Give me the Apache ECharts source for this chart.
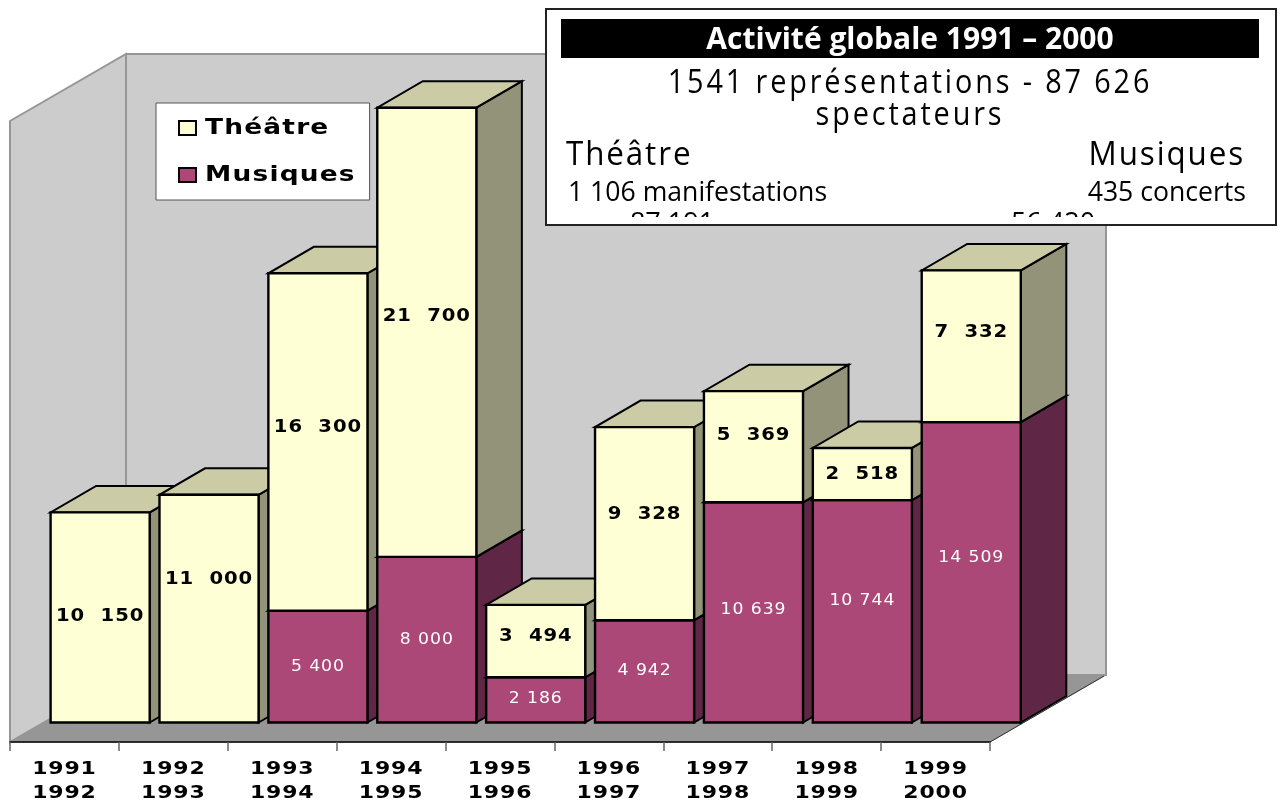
<!DOCTYPE html>
<html><head><meta charset="utf-8">
<style>html,body{margin:0;padding:0;background:#fff}#c{width:1284px;height:800px}</style>
<script src="https://cdn.jsdelivr.net/npm/echarts@6/dist/echarts.min.js"></script>
</head><body><div id="c"></div>
<script>
const categories = ['1991\n1992','1992\n1993','1993\n1994','1994\n1995','1995\n1996','1996\n1997','1997\n1998','1998\n1999','1999\n2000'];
const theatre  = [10150,11000,16300,21700,3494,9328,5369,2518,7332];
const musiques = [null,null,5400,8000,2186,4942,10639,10744,14509];
const seriesNames = ['Théâtre','Musiques'];
const infoTitle = 'Activité globale 1991 – 2000';
const infoLine1 = '1541 représentations - 87 626';
const infoLine2 = 'spectateurs';
const infoLeft = ['Théâtre','1 106 manifestations','87 191'];
const infoRight = ['Musiques','435 concerts','56 420'];

// vertical nudges (px) of the value labels, as placed in the reference
const nudgeTheatre = [-1,-29,-15,-16,-5,-9,-11,0,-14];
const nudgeMusiques = [0,0,0,0,-1,0,-2,-10,-14];

// Text widening: horizontal stretch and tracking per font size
const textLook = {18:[1.22,0.7],17.5:[1.12,0.8],15:[1.15,0.8],22:[1.2,1],30:[1.0,0],32:[0.9,3.2],33:[0.95,2],28:[0.95,0],27:[1.0,0,217]};
const rawFill = CanvasRenderingContext2D.prototype.fillText;
CanvasRenderingContext2D.prototype.fillText = function(t,x,y,m){
  const k = /([\d.]+)px/.exec(this.font);
  const look = k && textLook[k[1]];
  if(!look) return rawFill.call(this,t,x,y,m);
  this.save();
  if(look[2]){ this.beginPath(); this.rect(0,0,this.canvas.width,look[2]); this.clip(); }
  this.letterSpacing = look[1]+'px';
  this.translate(x,y); this.scale(look[0],1);
  rawFill.call(this,t,0,0);
  this.restore();
};

const C = {front:'#FFFFD5',top:'#CBCBA6',side:'#93937A',mfront:'#AB4877',mtop:'#CBCBA6',mside:'#5F2745',wall:'#CCCCCC',floor:'#969696',edge:'#969696'};
const DX=45.5, DY=-26.5;
const spaced = v => String(v).replace(/\B(?=(\d{3})+$)/g,' ');
const poly = (pts,fill,z2,stroke,lw)=>({type:'polygon',shape:{points:pts},z2,style:{fill,stroke:stroke||'#000',lineWidth:lw==null?2:lw,lineJoin:'miter'}});

function bar(values,bases,colors,order,nudge,labelFont,labelColor,gap){
  return function(params,api){
    const i=api.value(0), v=values[i];
    if(v==null) return null;
    const b=bases?(bases[i]||0):0;
    const p0=api.coord([i,b]), p1=api.coord([i,b+v]);
    const w=api.size([1,0])[0]*0.91;
    const l=p0[0]-w/2,r=p0[0]+w/2,yb=p0[1],yt=p1[1];
    const z=i*10+order;
    const kids=[
      poly([[r,yb],[r+DX,yb+DY],[r+DX,yt+DY],[r,yt]],colors[2],z),
      poly([[l,yt],[r,yt],[r+DX,yt+DY],[l+DX,yt+DY]],colors[1],z),
      {type:'rect',shape:{x:l,y:yt,width:w,height:yb-yt},z2:z+1,style:{fill:colors[0],stroke:'#000',lineWidth:2.4}},
      {type:'text',z2:500,style:{text:spaced(v).replace(' ',gap),x:p0[0],y:(yb+yt)/2+nudge[i],align:'center',verticalAlign:'middle',font:labelFont,fill:labelColor}}
    ];
    return {type:'group',children:kids};
  };
}
function walls(params){
  const g=params.coordSys,x=g.x,y=g.y,w=g.width,h=g.height,dx=116,dy=-67;
  const gr=C.edge;
  return {type:'group',children:[
    poly([[x,y],[x+dx,y+dy],[x+dx,y+h+dy],[x,y+h]],C.wall,0,gr,2),
    poly([[x+dx,y+dy],[x+w+dx,y+dy],[x+w+dx,y+h+dy],[x+dx,y+h+dy]],C.wall,0,gr,2),
    poly([[x,y+h],[x+dx,y+h+dy],[x+w+dx,y+h+dy],[x+w,y+h]],C.floor,1,gr,1),
    {type:'line',z2:2,shape:{x1:x+w,y1:y+h,x2:x+w+dx-2,y2:y+h+dy+1},style:{stroke:'#333',lineWidth:1}}
  ]};
}
const txt=(text,x,y,font,fill,align,z2)=>({type:'text',z:100,z2:z2||10,style:{text,x,y,font,fill,align:align||'center',verticalAlign:'middle'}});

const option={
  animation:false,
  backgroundColor:'#fff',
  grid:[{left:10,top:121,width:980,height:621,outerBoundsMode:'none'},{left:45.7,top:101.5,width:980,height:621,outerBoundsMode:'none'}],
  xAxis:[
    {type:'category',gridIndex:0,data:categories,z:5,
      axisLine:{lineStyle:{color:'#000',width:1.5}},
      axisTick:{show:true,length:9,lineStyle:{color:'#666',width:1.5}},
      axisLabel:{interval:0,margin:15,lineHeight:24,color:'#000',fontFamily:'DejaVu Sans',fontWeight:'bold',fontSize:18}},
    {type:'category',gridIndex:1,data:categories,show:false}
  ],
  yAxis:[
    {type:'value',gridIndex:0,min:0,max:30000,show:false},
    {type:'value',gridIndex:1,min:0,max:30000,show:false}
  ],
  legend:{
    show:true,left:156,top:103,orient:'vertical',data:seriesNames,
    backgroundColor:'#fff',borderColor:'#555',borderWidth:1,borderRadius:0,
    padding:[14,47,14,22],itemGap:25,itemWidth:17,itemHeight:14,itemStyle:{borderWidth:2,borderColor:'#000'},
    icon:'rect',selectedMode:false,
    textStyle:{fontFamily:'DejaVu Sans',fontWeight:'bold',fontSize:22,color:'#000',padding:[0,0,0,4]}
  },
  series:[
    {type:'custom',name:'walls',silent:true,xAxisIndex:0,yAxisIndex:0,z:1,data:[[0]],renderItem:walls,clip:false},
    {type:'custom',name:'Musiques',xAxisIndex:1,yAxisIndex:1,z:2,clip:false,silent:true,
      itemStyle:{color:C.mfront},
      encode:{x:0,y:1},
      data:musiques.map((v,i)=>[i,v]),
      renderItem:bar(musiques,null,[C.mfront,C.mfront,C.mside],0,nudgeMusiques,'15px "DejaVu Sans"','#fff',' ')},
    {type:'custom',name:'Théâtre',xAxisIndex:1,yAxisIndex:1,z:2,clip:false,silent:true,
      itemStyle:{color:C.front},
      encode:{x:0,y:1},
      data:theatre.map((v,i)=>[i,v]),
      renderItem:bar(theatre,musiques,[C.front,C.top,C.side],2,nudgeTheatre,'bold 17.5px "DejaVu Sans"','#000','  ')}
  ],
  graphic:[
    {type:'rect',z:100,z2:1,shape:{x:546,y:9,width:730,height:216},style:{fill:'#fff',stroke:'#222',lineWidth:2}},
    {type:'rect',z:100,z2:2,shape:{x:561,y:19,width:698,height:39},style:{fill:'#000'}},
    txt(infoTitle,910,40,'bold 30px "Open Sans"','#fff'),
    txt(infoLine1,910,84,'500 32px "Open Sans"','#000'),
    txt(infoLine2,910,116,'500 32px "Open Sans"','#000'),
    txt(infoLeft[0],566,156,'500 33px "Open Sans"','#000','left'),
    txt(infoRight[0],1245,156,'500 33px "Open Sans"','#000','right'),
    txt(infoLeft[1],568,193,'28px "Open Sans"','#000','left'),
    txt(infoRight[1],1246,193,'28px "Open Sans"','#000','right'),
    txt(infoLeft[2],672,224,'27px "Open Sans"','#000','center',5),
    txt(infoRight[2],1053,224,'27px "Open Sans"','#000','center',5),
    {type:'rect',z:100,z2:21,shape:{x:546,y:9,width:730,height:216},style:{fill:'none',stroke:'#222',lineWidth:2}}
  ]
};
const chart=echarts.init(document.getElementById('c'),null,{renderer:'canvas'});
chart.setOption(option);
</script></body></html>
